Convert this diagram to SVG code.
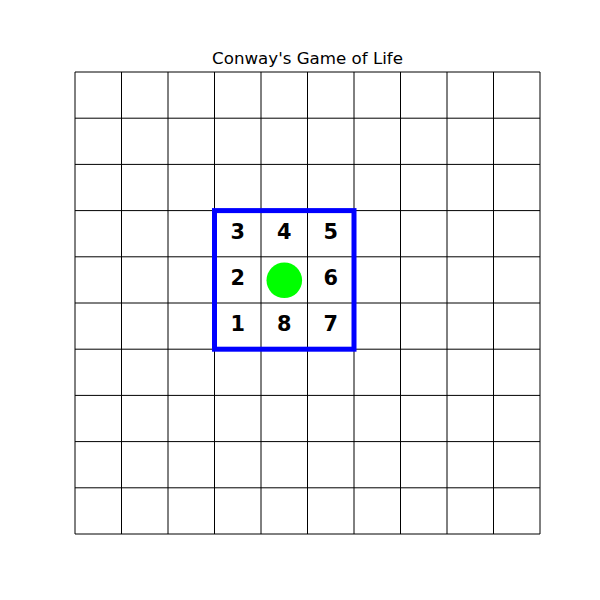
<svg xmlns="http://www.w3.org/2000/svg" width="600" height="600" viewBox="0 0 600 600">
<style>
.grid line{stroke:#000;stroke-width:1}
.num{font-family:"DejaVu Sans",sans-serif;font-size:20.8px;font-weight:bold;fill:#000;text-anchor:middle}
.title{font-family:"DejaVu Sans",sans-serif;font-size:16.67px;fill:#000;text-anchor:middle}
</style>
<rect width="600" height="600" fill="#fff"/>
<text class="title" x="307.5" y="64">Conway's Game of Life</text>
<g id="grid" class="grid">
<line x1="75" y1="72" x2="75" y2="534"/>
<line x1="121.5" y1="72" x2="121.5" y2="534"/>
<line x1="168" y1="72" x2="168" y2="534"/>
<line x1="214.5" y1="72" x2="214.5" y2="534"/>
<line x1="261" y1="72" x2="261" y2="534"/>
<line x1="307.5" y1="72" x2="307.5" y2="534"/>
<line x1="354" y1="72" x2="354" y2="534"/>
<line x1="400.5" y1="72" x2="400.5" y2="534"/>
<line x1="447" y1="72" x2="447" y2="534"/>
<line x1="493.5" y1="72" x2="493.5" y2="534"/>
<line x1="540" y1="72" x2="540" y2="534"/>
<line x1="75" y1="72" x2="540" y2="72"/>
<line x1="75" y1="118.2" x2="540" y2="118.2"/>
<line x1="75" y1="164.4" x2="540" y2="164.4"/>
<line x1="75" y1="210.6" x2="540" y2="210.6"/>
<line x1="75" y1="256.8" x2="540" y2="256.8"/>
<line x1="75" y1="303" x2="540" y2="303"/>
<line x1="75" y1="349.2" x2="540" y2="349.2"/>
<line x1="75" y1="395.4" x2="540" y2="395.4"/>
<line x1="75" y1="441.6" x2="540" y2="441.6"/>
<line x1="75" y1="487.8" x2="540" y2="487.8"/>
<line x1="75" y1="534" x2="540" y2="534"/>
</g>
<g id="neighborhood">
<rect x="214.5" y="210.6" width="139.5" height="138.6" fill="none" stroke="#0000ff" stroke-width="5"/>
</g>
<g id="cell">
<circle cx="284.3" cy="280.3" r="17.8" fill="#00ff00"/>
</g>
<g id="labels">
<text class="num" x="237.8" y="238.8">3</text>
<text class="num" x="284.3" y="238.8">4</text>
<text class="num" x="330.8" y="238.8">5</text>
<text class="num" x="237.8" y="285">2</text>
<text class="num" x="330.8" y="285">6</text>
<text class="num" x="237.8" y="331.2">1</text>
<text class="num" x="284.3" y="331.2">8</text>
<text class="num" x="330.8" y="331.2">7</text>
</g>
</svg>
